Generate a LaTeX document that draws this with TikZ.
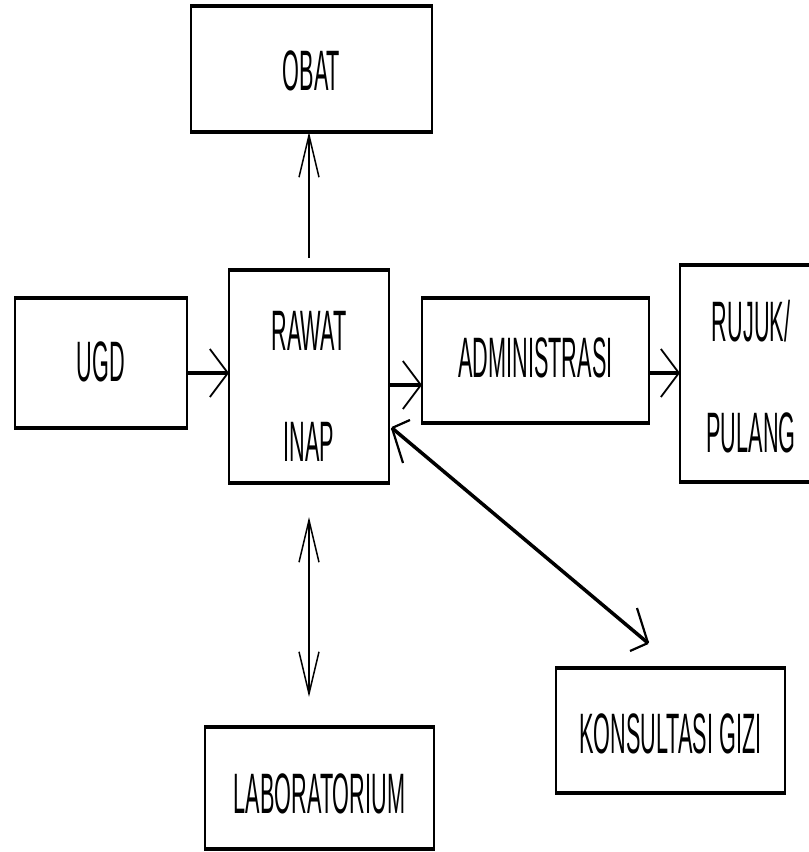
\documentclass[tikz,border=0pt]{standalone}
\usepackage{fontspec}
\setmainfont{Liberation Sans}
\newfontfamily\narrowfont[FakeStretch=0.38]{Liberation Sans}
\usetikzlibrary{arrows.meta}

\begin{document}
\begin{tikzpicture}[x=1pt,y=-1pt,
  box/.style={draw, line width=2pt, inner sep=0pt, outer sep=0pt, align=center,
    font=\narrowfont\fontsize{57}{111}\selectfont},
  edge/.style={line width=4pt, shorten <=-1pt, shorten >=-1pt},
  harrow/.style={line width=3.5pt, -{Straight Barb[length=18pt,width=48pt,line width=1.8pt]}},
  varrow/.style={line width=1.5pt, -{Straight Barb[length=42pt,width=20pt,line width=1.5pt]}},
  barb/.style={line width=2.2pt}]
\useasboundingbox (0,0) rectangle (809,852);
\clip (0,0) rectangle (809,852);

% boxes
\node[box, minimum width=241pt, minimum height=126pt, text height=43pt] (obat) at (311.5,69) {OBAT};
\node[box, minimum width=160pt, minimum height=213pt, text height=170pt] (rawat) at (309,376.5) {RAWAT\\INAP};
\node[box, minimum width=172pt, minimum height=130pt, text height=37pt] (ugd) at (101,363) {UGD};
\node[box, minimum width=227pt, minimum height=125pt, text height=34pt] (admin) at (535.5,360.5) {ADMINISTRASI};
\node[box, minimum width=142pt, minimum height=217pt, text height=158pt] (rujuk) at (751,373.5) {RUJUK/\\PULANG};
\node[box, minimum width=229pt, minimum height=125pt, text height=46pt] (konsul) at (670.5,730.5) {KONSULTASI GIZI};
\node[box, minimum width=229pt, minimum height=122pt, text height=51pt] (lab) at (319.5,788) {LABORATORIUM};

% heavier top and bottom edges
\foreach \n in {obat,rawat,ugd,admin,rujuk,konsul,lab}{
  \draw[edge] (\n.north west) -- (\n.north east);
  \draw[edge] (\n.south west) -- (\n.south east);
}

% horizontal connectors
\coordinate (ua) at (0,373);
\coordinate (ra) at (0,385);
\draw[harrow] (ugd.east |- ua) -- (rawat.west |- ua);
\draw[harrow] (rawat.east |- ra) -- (admin.west |- ra);
\draw[harrow] (admin.east |- ua) -- (rujuk.west |- ua);

% rawat inap -> obat
\coordinate (ot) at (309,258);
\draw[varrow] (ot) -- (ot |- obat.south);

% rawat inap <-> laboratorium
\coordinate (lt) at (309,517);
\coordinate (lb) at (309,697);
\draw[varrow, {Straight Barb[length=42pt,width=20pt,line width=1.5pt]}-{Straight Barb[length=42pt,width=20pt,line width=1.5pt]}] (lt) -- (lb);

% rawat inap <-> konsultasi gizi
\coordinate (ds) at (392,428);
\coordinate (dt) at (648,643);
\draw[line width=3.5pt] (ds) -- (dt);
\draw[barb] (ds) -- ++(18,-8);
\draw[barb] (ds) -- ++(11,35);
\draw[barb] (dt) -- ++(-18,8);
\draw[barb] (dt) -- ++(-11,-35);
\end{tikzpicture}
\end{document}
